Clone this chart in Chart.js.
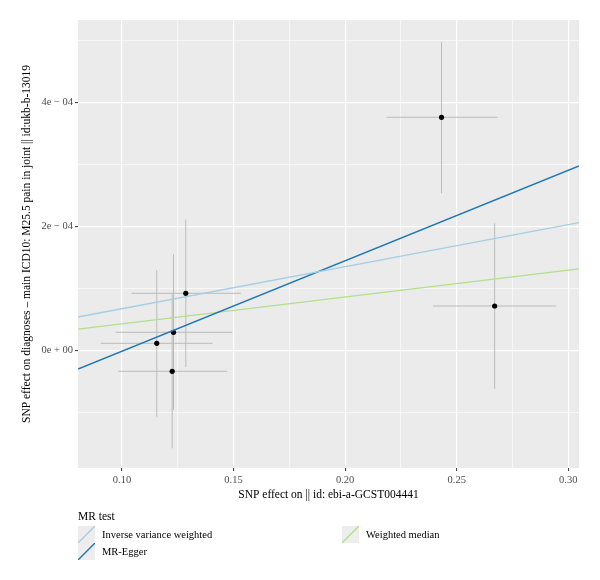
<!DOCTYPE html>
<html><head><meta charset="utf-8">
<script src="https://cdn.jsdelivr.net/npm/chart.js@4/dist/chart.umd.min.js"></script>
<style>
html,body{margin:0;padding:0;background:#fff;}
#wrap{position:relative;width:600px;height:580px;overflow:hidden;}
#c{position:absolute;left:0;top:0;}
.lg{position:absolute;font-family:"Liberation Serif","Times New Roman",serif;color:#000;white-space:nowrap;}
.lgt{font-size:11.5px;line-height:13px;}
.lgi{font-size:10.5px;line-height:17px;height:17px;}
.key{position:absolute;width:17px;height:17px;}
</style></head><body>
<div id="wrap"><canvas id="c" width="600" height="580"></canvas><div id="legend"></div></div>
<script>
// ---- data ----
const exposureBeta = [0.1156, 0.1231, 0.1286, 0.1225, 0.2432, 0.2670];
const outcomeBeta  = [1.19e-5, 2.97e-5, 9.26e-5, -3.32e-5, 3.765e-4, 7.21e-5];
const exposureLow  = [0.0905, 0.0971, 0.1043, 0.0983, 0.2186, 0.2393];
const exposureHigh = [0.1406, 0.1494, 0.1533, 0.1471, 0.2683, 0.2946];
const outcomeLow   = [-1.065e-4, -0.956e-4, -0.263e-4, -1.574e-4, 2.539e-4, -0.618e-4];
const outcomeHigh  = [1.302e-4, 1.555e-4, 2.115e-4, 0.910e-4, 4.984e-4, 2.055e-4];
const methods    = ['Inverse variance weighted', 'MR-Egger', 'Weighted median'];
const slopes     = [6.78e-4, 1.4586e-3, 4.33e-4];
const intercepts = [0, -1.467e-4, 0];
const xRange = [0.0803, 0.3048];
const yRange = [-1.892e-4, 5.334e-4];
const xTicks = [0.10, 0.15, 0.20, 0.25, 0.30];
const xTickLabels = ['0.10', '0.15', '0.20', '0.25', '0.30'];
const xMinorTicks = [0.125, 0.175, 0.225, 0.275];
const yTicks = [0, 2e-4, 4e-4];
const yTickLabels = ['0e + 00', '2e − 04', '4e − 04'];
const yMinorTicks = [-1e-4, 1e-4, 3e-4, 5e-4];
const xTitle = 'SNP effect on || id: ebi-a-GCST004441';
const yTitle = 'SNP effect on diagnoses – main ICD10: M25.5 pain in joint || id:ukb-b-13019';
const legendTitle = 'MR test';

// ---- styles ----
const methodColors = ['#A6CEE3', '#1F78B4', '#B2DF8A'];
const FONT = '"Liberation Serif", "Times New Roman", serif';
Chart.defaults.font.family = FONT;

const datasets = [];
methods.forEach((m, i) => {
  datasets.push({
    label: m, showLine: true, clip: 0,
    data: xRange.map(x => ({x: x, y: intercepts[i] + slopes[i] * x})),
    borderColor: methodColors[i], borderWidth: 1.4, pointRadius: 0, fill: false
  });
});
datasets.push({
  label: 'SNPs', data: exposureBeta.map((x, i) => ({x: x, y: outcomeBeta[i]})),
  backgroundColor: '#000', borderWidth: 0, pointRadius: 2.6, showLine: false
});
exposureBeta.forEach((x, i) => {
  datasets.push({
    label: 'eh' + i, showLine: true, pointRadius: 0, borderColor: '#BBBBBB', borderWidth: 1,
    data: [{x: exposureLow[i], y: outcomeBeta[i]}, {x: exposureHigh[i], y: outcomeBeta[i]}]
  });
  datasets.push({
    label: 'ev' + i, showLine: true, pointRadius: 0, borderColor: '#BBBBBB', borderWidth: 1,
    data: [{x: x, y: outcomeLow[i]}, {x: x, y: outcomeHigh[i]}]
  });
});

const panelBg = {
  id: 'panelBg',
  beforeDraw(chart) {
    const a = chart.chartArea, ctx = chart.ctx;
    ctx.save(); ctx.fillStyle = '#EBEBEB';
    ctx.fillRect(a.left, a.top, a.right - a.left, a.bottom - a.top); ctx.restore();
  }
};

function gridOpts(majors) {
  const isMajor = ctx => ctx.tick && majors.indexOf(ctx.tick.value) >= 0;
  return {
    color: '#FFFFFF',
    lineWidth: ctx => isMajor(ctx) ? 1.2 : 0.6,
    tickColor: ctx => isMajor(ctx) ? '#333333' : 'rgba(0,0,0,0)',
    tickWidth: 1, tickLength: 3, drawTicks: true, drawOnChartArea: true
  };
}

new Chart(document.getElementById('c'), {
  type: 'scatter',
  data: {datasets: datasets},
  options: {
    responsive: false, animation: false, devicePixelRatio: 1, events: [],
    layout: {padding: {left: 0, top: 20, right: 21, bottom: 72}},
    plugins: {legend: {display: false}, tooltip: {enabled: false}},
    scales: {
      x: {
        type: 'linear', min: xRange[0], max: xRange[1],
        afterBuildTicks: s => { s.ticks = xTicks.concat(xMinorTicks).sort((a, b) => a - b).map(v => ({value: v})); },
        afterFit: s => { s.height = 40; },
        ticks: {
          autoSkip: false, maxRotation: 0, padding: 3, color: '#4D4D4D', font: {size: 10.5},
          callback: v => { const k = xTicks.indexOf(v); return k >= 0 ? xTickLabels[k] : ''; }
        },
        grid: gridOpts(xTicks), border: {display: false},
        title: {display: true, text: xTitle, color: '#000', font: {size: 11.5}, padding: {top: 0, bottom: 6}}
      },
      y: {
        type: 'linear', min: yRange[0], max: yRange[1],
        afterBuildTicks: s => { s.ticks = yTicks.concat(yMinorTicks).sort((a, b) => a - b).map(v => ({value: v})); },
        afterFit: s => { s.width = 78; },
        ticks: {
          autoSkip: false, padding: 2, color: '#4D4D4D', font: {size: 10.5},
          callback: v => { const k = yTicks.indexOf(v); return k >= 0 ? yTickLabels[k] : ''; }
        },
        grid: gridOpts(yTicks), border: {display: false},
        title: {display: true, text: yTitle, color: '#000', font: {size: 11.5}, padding: {top: 20, bottom: 0}}
      }
    }
  },
  plugins: [panelBg]
});

// ---- legend (HTML) ----
const lg = document.getElementById('legend');
function addText(cls, txt, left, top) {
  const d = document.createElement('div');
  d.className = 'lg ' + cls; d.textContent = txt;
  d.style.left = left + 'px'; d.style.top = top + 'px';
  lg.appendChild(d);
}
function addKey(color, left, top) {
  const d = document.createElement('div');
  d.className = 'key'; d.style.left = left + 'px'; d.style.top = top + 'px';
  d.innerHTML = '<svg width="17" height="17"><rect x="0" y="0" width="17" height="17" fill="#EDEDED"/>' +
    '<line x1="0" y1="17" x2="17" y2="0" stroke="' + color + '" stroke-width="1.4"/></svg>';
  lg.appendChild(d);
}
addText('lgt', legendTitle, 78, 510);
const legendPos = [[78, 526], [78, 543], [342, 526]];
methods.forEach((m, i) => {
  addKey(methodColors[i], legendPos[i][0], legendPos[i][1]);
  addText('lgi', m, legendPos[i][0] + 24, legendPos[i][1]);
});
</script>
</body></html>
